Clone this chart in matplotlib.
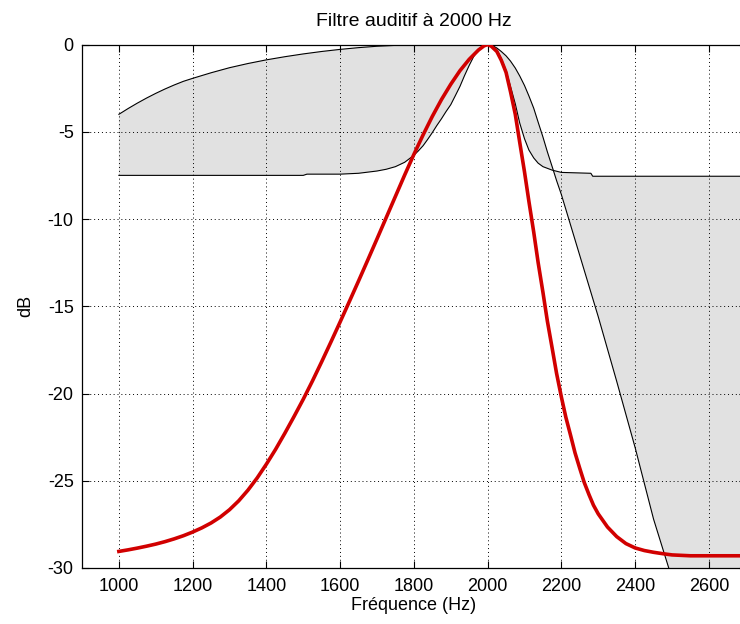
import matplotlib
matplotlib.use("Agg")
import matplotlib.pyplot as plt

plt.rcParams['font.family'] = ['Liberation Sans', 'DejaVu Sans']
plt.rcParams['axes.unicode_minus'] = False

#------------------- data -------------------
# red curve : filter response (Hz, dB)
red_freq = [1000, 1025, 1050, 1075, 1100, 1125, 1150, 1175, 1200, 1225, 1250, 1275,
            1300, 1325, 1350, 1375, 1400, 1425, 1450, 1475, 1500, 1525, 1550, 1575,
            1600, 1625, 1650, 1675, 1700, 1725, 1750, 1775, 1800, 1825, 1850, 1875,
            1900, 1925, 1950, 1975, 1990, 2000,
            2010, 2025, 2037, 2050, 2062, 2075, 2087, 2100, 2112, 2125, 2137, 2150,
            2162, 2175, 2187, 2200, 2212, 2225, 2237, 2250, 2262, 2275, 2287, 2300,
            2325, 2350, 2375, 2400, 2425, 2450, 2475, 2500, 2550, 2700]
red_db = [-29.05, -28.96, -28.86, -28.75, -28.63, -28.49, -28.33, -28.15, -27.94, -27.7, -27.42, -27.08,
          -26.66, -26.15, -25.54, -24.84, -24.05, -23.2, -22.28, -21.32, -20.33, -19.28, -18.18, -17.05,
          -15.9, -14.73, -13.55, -12.35, -11.14, -9.92, -8.7, -7.48, -6.3, -5.18, -4.12, -3.15,
          -2.28, -1.5, -0.85, -0.32, -0.08, 0.0,
          -0.1, -0.4, -0.9, -1.6, -2.7, -4.0, -5.6, -7.3, -9.0, -10.75, -12.5, -14.2,
          -15.85, -17.4, -18.85, -20.2, -21.35, -22.4, -23.4, -24.3, -25.1, -25.8, -26.4, -26.9,
          -27.65, -28.2, -28.6, -28.85, -29.0, -29.1, -29.18, -29.25, -29.3, -29.3]

# upper template edge
up_freq = [1000, 1025, 1050, 1075, 1100, 1125, 1150, 1175, 1200, 1250, 1300, 1350,
           1400, 1450, 1500, 1550, 1600, 1650, 1700, 1750, 1800, 1850, 1900, 1950, 2000,
           2012, 2025, 2037, 2050, 2062, 2075, 2087, 2100, 2112, 2125, 2137, 2150,
           2162, 2175, 2187, 2200, 2250, 2300, 2350, 2400, 2450, 2500, 2550, 2700]
up_db = [-4.0, -3.67, -3.36, -3.07, -2.8, -2.55, -2.32, -2.11, -1.94, -1.62, -1.33, -1.09,
         -0.88, -0.7, -0.54, -0.4, -0.28, -0.18, -0.1, -0.05, -0.02, 0.0, 0.0, 0.0, 0.0,
         -0.05, -0.2, -0.4, -0.65, -0.95, -1.35, -1.8, -2.35, -2.95, -3.65, -4.45, -5.3,
         -6.15, -7.0, -7.8, -8.6, -12.1, -15.6, -19.3, -23.1, -27.2, -30.6, -34.3, -45.0]

# lower template edge
low_freq = [1000, 1500, 1510, 1600, 1650, 1700, 1725, 1750, 1775, 1800, 1812, 1825,
            1837, 1850, 1862, 1875, 1887, 1900, 1912, 1925, 1937, 1950, 1962, 1975,
            1987, 2000, 2012, 2025, 2037, 2050, 2062, 2075, 2087, 2100, 2112, 2125,
            2137, 2150, 2175, 2200, 2280, 2285, 2700]
low_db = [-7.5, -7.5, -7.43, -7.43, -7.38, -7.25, -7.15, -7.0, -6.75, -6.35, -6.1, -5.8,
          -5.45, -5.05, -4.65, -4.25, -3.85, -3.45, -2.95, -2.4, -1.8, -1.2, -0.7, -0.3,
          -0.08, 0.0, -0.05, -0.3, -0.8, -1.5, -2.4, -3.4, -4.5, -5.4, -6.05, -6.5,
          -6.8, -7.0, -7.2, -7.33, -7.38, -7.55, -7.55]

xticks = [1000, 1200, 1400, 1600, 1800, 2000, 2200, 2400, 2600]
yticks = [-30, -25, -20, -15, -10, -5, 0]

#------------------- figure -------------------
fig = plt.figure(figsize=(7.4, 6.24), dpi=100)
ax = fig.add_axes([82 / 740, 56 / 624, 663.75 / 740, 523.5 / 624])

# gray region between the two edges (one polygon, edges cross twice)
poly_x = up_freq + low_freq[::-1]
poly_y = up_db + low_db[::-1]
ax.fill(poly_x, poly_y, color='#e1e1e1', lw=0, zorder=1)

ax.plot(up_freq, up_db, color='black', lw=0.8, zorder=3)
ax.plot(low_freq, low_db, color='black', lw=0.8, zorder=3)
ax.plot(red_freq, red_db, color='#d10000', lw=2.6, zorder=4)

ax.set_xlim(900, 2700)
ax.set_ylim(-30, 0)
ax.set_xticks(xticks)
ax.set_yticks(yticks)

ax.set_axisbelow(False)
ax.grid(True, color='black', linestyle=(0, (1, 3)), lw=0.7)

ax.tick_params(direction='in', length=5, width=0.8, top=True, right=True,
               labelsize=13, colors='black')
ax.tick_params(axis='x', pad=7)
ax.tick_params(axis='y', pad=6)
for s in ax.spines.values():
    s.set_linewidth(0.9)

ax.set_title('Filtre auditif à 2000 Hz', fontsize=14, pad=13)
ax.set_xlabel('Fréquence (Hz)', fontsize=13, labelpad=2)
ax.set_ylabel('dB', fontsize=13, labelpad=10)

fig.savefig('out.png', dpi=100)
